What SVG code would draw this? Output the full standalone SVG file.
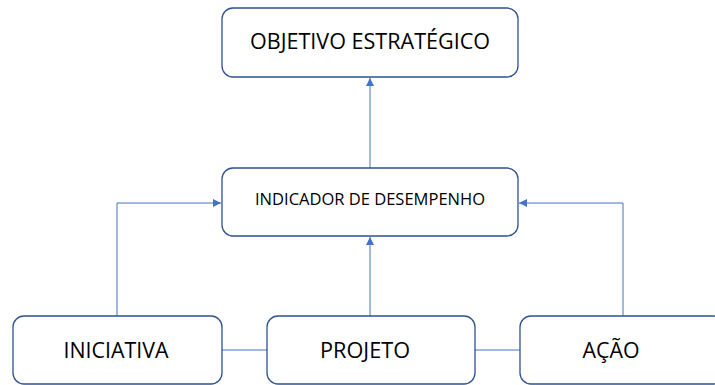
<svg xmlns="http://www.w3.org/2000/svg" width="715" height="385" viewBox="0 0 715 385">
<style>
.box{fill:#fff;stroke:#2F528F;stroke-width:1.3}
.lbl{font-family:"Open Sans","Liberation Sans",sans-serif;fill:#000;text-anchor:middle}
.con{fill:none;stroke:#4472C4;stroke-width:1}
</style>
<defs>
<marker id="arr" viewBox="0 0 10 10" refX="10" refY="5" markerWidth="8" markerHeight="8" markerUnits="userSpaceOnUse" orient="auto">
<path d="M0,0 L10,5 L0,10 Z" fill="#4472C4"/>
</marker>
</defs>
<rect width="715" height="385" fill="#fff"/>
<g id="connectors">
<path class="con" d="M370,168 L370,78" marker-end="url(#arr)"/>
<path class="con" d="M370,316 L370,237" marker-end="url(#arr)"/>
<path class="con" d="M117,316 L117,203 L221,203" marker-end="url(#arr)"/>
<path class="con" d="M623,316 L623,203 L519,203" marker-end="url(#arr)"/>
<path class="con" d="M222,350 L267,350"/>
<path class="con" d="M475,350 L520,350"/>
</g>
<g id="objetivo">
<rect class="box" x="222" y="8" width="296" height="69" rx="11"/>
<text class="lbl" x="370" y="49" font-size="21" textLength="240" lengthAdjust="spacingAndGlyphs">OBJETIVO ESTRATÉGICO</text>
</g>
<g id="indicador">
<rect class="box" x="222" y="168" width="296" height="68" rx="11"/>
<text class="lbl" x="370" y="205" font-size="16" textLength="230" lengthAdjust="spacingAndGlyphs">INDICADOR DE DESEMPENHO</text>
</g>
<g id="iniciativa">
<rect class="box" x="13" y="316" width="209" height="68" rx="11"/>
<text class="lbl" x="116" y="358" font-size="21" textLength="105" lengthAdjust="spacingAndGlyphs">INICIATIVA</text>
</g>
<g id="projeto">
<rect class="box" x="267" y="316" width="208" height="68" rx="11"/>
<text class="lbl" x="365" y="358" font-size="21" textLength="90" lengthAdjust="spacingAndGlyphs">PROJETO</text>
</g>
<g id="acao">
<rect class="box" x="520" y="316" width="205" height="68" rx="11"/>
<text class="lbl" x="611" y="358" font-size="21" textLength="57" lengthAdjust="spacingAndGlyphs">AÇÃO</text>
</g>
</svg>
